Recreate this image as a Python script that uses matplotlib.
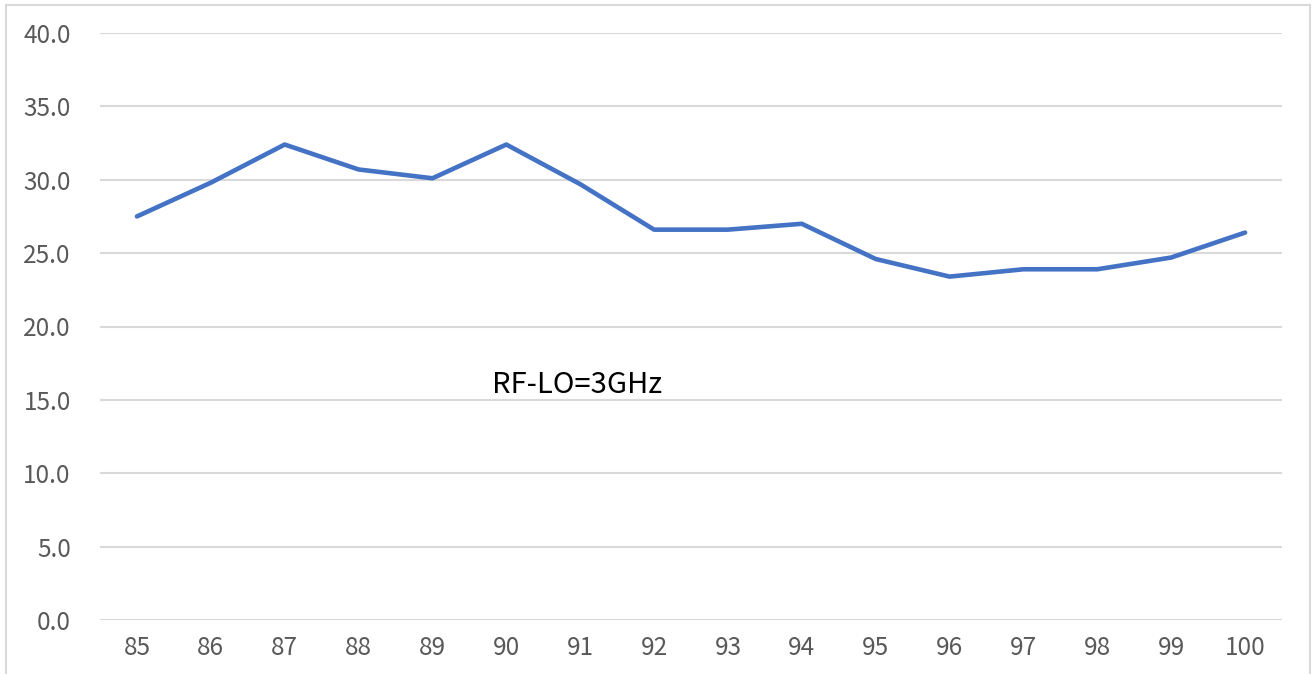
import matplotlib

matplotlib.use("Agg")
import matplotlib.pyplot as plt
from matplotlib.patches import Rectangle

# freq points (category axis) and measured values
freqs = [85, 86, 87, 88, 89, 90, 91, 92, 93, 94, 95, 96, 97, 98, 99, 100]
values = [27.5, 29.8, 32.4, 30.7, 30.1, 32.4, 29.7, 26.6,
          26.6, 27.0, 24.6, 23.4, 23.9, 23.9, 24.7, 26.4]
y_ticks = [0, 5, 10, 15, 20, 25, 30, 35, 40]
note = "RF-LO=3GHz"

plt.rcParams["font.family"] = ["Noto Sans CJK SC", "DejaVu Sans"]
plt.rcParams["font.weight"] = "light"

W, H = 1313, 674
fig = plt.figure(figsize=(W / 100, H / 100), dpi=100)
ax = fig.add_axes([100 / W, (H - 620) / H, (1282 - 100) / W, (620 - 33) / H])

# outer chart border, like Excel chart area
fig.patches.append(Rectangle((6 / W, -0.01), (1310 - 6) / W, (H - 5) / H + 0.01,
                             transform=fig.transFigure, fill=False,
                             edgecolor="#D9D9D9", linewidth=1.5))

x = list(range(len(freqs)))
ax.plot(x, values, color="#4472C4", linewidth=3.3, solid_joinstyle="round",
        solid_capstyle="round", zorder=3)

ax.set_xlim(-0.5, len(freqs) - 0.5)
ax.set_ylim(0, 40)
ax.set_xticks(x)
ax.set_xticklabels([str(f) for f in freqs])
ax.set_yticks(y_ticks)
ax.set_yticklabels([f"{v:.1f}" for v in y_ticks])
ax.tick_params(length=0, labelsize=17.5, colors="#595959")
ax.tick_params(axis="x", pad=11)
ax.tick_params(axis="y", pad=21)
ax.grid(axis="y", color="#D9D9D9", linewidth=1.5)
ax.set_axisbelow(True)
for s in ax.spines.values():
    s.set_visible(False)

# label placed in pixel space (from top-left of the image)
ax.text(577, H - 385, note, transform=None, fontsize=21, color="#000000",
        ha="center", va="center")

fig.savefig("out.png", dpi=100)
